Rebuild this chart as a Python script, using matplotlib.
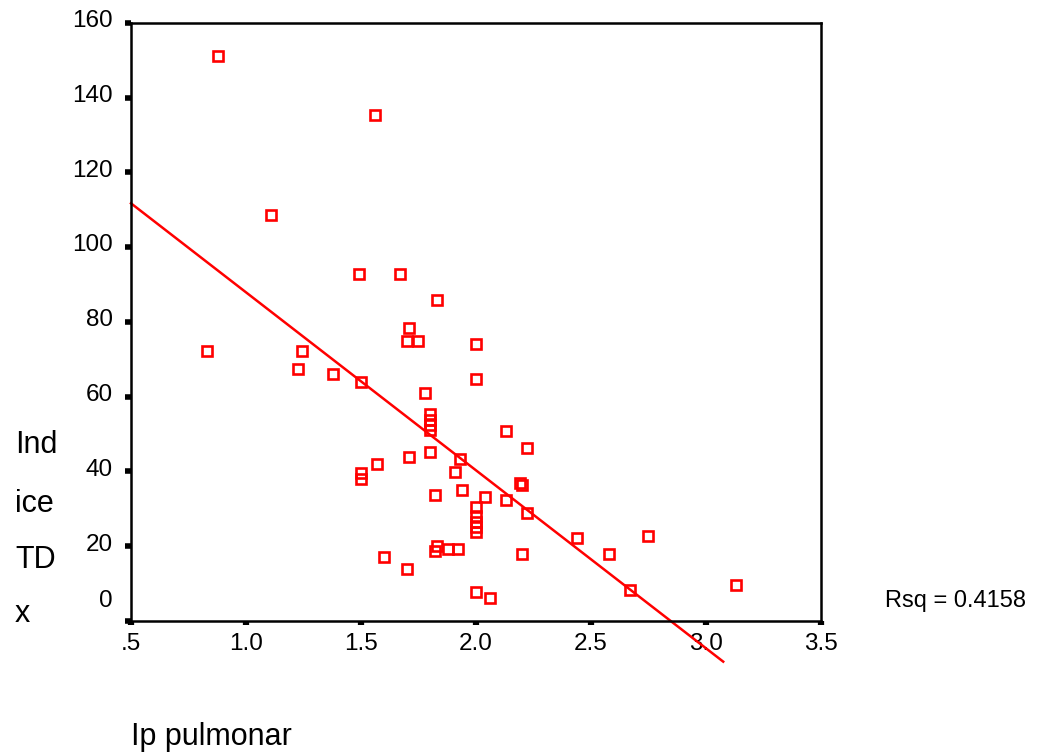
import numpy as np
import matplotlib
matplotlib.use("Agg")
import matplotlib.pyplot as plt
from matplotlib.transforms import ScaledTranslation

plt.rcParams['font.family'] = ['Liberation Sans', 'DejaVu Sans']

# Ip pulmonar vs Indice TDx
ip_pulmonar = [0.88, 1.56, 1.11, 1.49, 1.67, 1.83, 1.71, 1.70, 1.75, 0.83,
               1.245, 1.225, 1.38, 1.50, 2.00, 2.00, 1.78, 1.80, 1.80, 1.80,
               1.80, 2.13, 2.22, 1.80, 1.71, 1.93, 1.57, 1.91, 1.50, 1.50,
               2.19, 2.20, 1.94, 1.82, 2.04, 2.13, 2.00, 2.00, 2.00, 2.00,
               2.00, 2.22, 1.83, 1.82, 1.88, 1.92, 2.20, 1.60, 1.70, 2.00,
               2.06, 2.44, 2.75, 2.58, 2.67, 3.13]
indice_tdx = [151.0, 135.2, 108.5, 92.7, 92.7, 85.8, 78.4, 74.9, 74.9, 72.2,
              72.2, 67.4, 66.0, 64.0, 74.1, 64.6, 61.0, 55.3, 53.7, 52.4,
              51.2, 50.8, 46.2, 45.3, 43.9, 43.2, 41.9, 39.8, 39.6, 38.0,
              37.0, 36.3, 35.0, 33.7, 33.1, 32.4, 30.6, 28.0, 26.5, 25.2,
              23.9, 29.0, 20.0, 18.7, 19.3, 19.3, 17.9, 17.2, 13.8, 7.7,
              6.2, 22.1, 22.6, 17.9, 8.4, 9.7]

# linear fit
fit_intercept = 135.5
fit_slope = -47.6
fit_range = [0.5, 3.075]
rsq = 0.4158

x_ticks = [0.5, 1.0, 1.5, 2.0, 2.5, 3.0, 3.5]
x_labels = ['.5', '1.0', '1.5', '2.0', '2.5', '3.0', '3.5']
y_ticks = [0, 20, 40, 60, 80, 100, 120, 140, 160]

fig = plt.figure(figsize=(10.38, 7.55), dpi=100)
ax = fig.add_axes([0.1262, 0.1775, 0.6647, 0.7924])

ax.plot(ip_pulmonar, indice_tdx, 's', ms=6.6, mfc='none', mec='#ff0000', mew=1.9)

fx = np.array(fit_range)
ax.plot(fx, fit_intercept + fit_slope * fx, color='#ff0000', lw=1.8, clip_on=False)

ax.set_xlim(0.5, 3.5)
ax.set_ylim(0, 160)
ax.set_xticks(x_ticks)
ax.set_xticklabels(x_labels)
ax.set_yticks(y_ticks)

for s in ax.spines.values():
    s.set_linewidth(1.8)
    s.set_color('black')

ax.tick_params(axis='x', direction='out', length=3, width=4.5, pad=6, labelsize=17.5)
ax.tick_params(axis='y', direction='out', length=4.5, width=4, pad=8.5, labelsize=17.5)

# y tick labels sit slightly above their ticks, the zero one a bit more
for lab, v in zip(ax.get_yticklabels(), y_ticks):
    dy = 16 / 72 if v == 0 else 3 / 72
    lab.set_transform(lab.get_transform() + ScaledTranslation(0, dy, fig.dpi_scale_trans))

# axis titles
for word, yb in zip(['Ind', 'ice', 'TD', 'x'], [453, 512, 568, 622]):
    fig.text(15 / 1038, 1 - yb / 755, word, fontsize=22, ha='left', va='baseline')
fig.text(131 / 1038, 1 - 745 / 755, 'Ip pulmonar', fontsize=22, ha='left', va='baseline')
fig.text(885 / 1038, 1 - 607 / 755, 'Rsq = %.4f' % rsq, fontsize=17, ha='left', va='baseline')

fig.savefig('out.png', dpi=100)
